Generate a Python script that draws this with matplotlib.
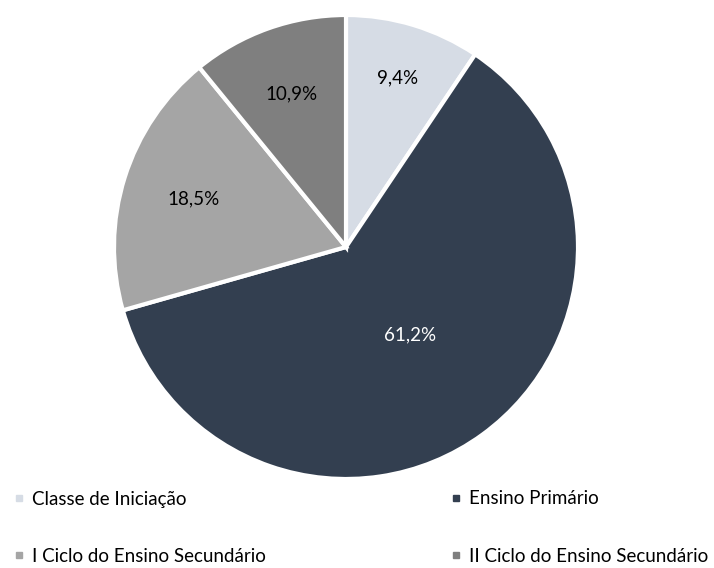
import matplotlib
matplotlib.use('Agg')
import matplotlib.pyplot as plt
from matplotlib.lines import Line2D
import numpy as np

labels = ["Classe de Iniciação", "Ensino Primário",
          "I Ciclo do Ensino Secundário", "II Ciclo do Ensino Secundário"]
shares = [9.4, 61.2, 18.5, 10.9]
colors = ["#d6dce5", "#333f50", "#a5a5a5", "#7f7f7f"]
text_colors = ["black", "white", "black", "black"]
label_dist = [0.76, 0.47, 0.69, 0.70]

plt.rcParams['font.family'] = ['Lato', 'DejaVu Sans']

fig = plt.figure(figsize=(7.14, 5.68), dpi=100)
ax = fig.add_axes([114 / 714, (568 - 247 - 232) / 568, 464 / 714, 464 / 568])

wedges, _ = ax.pie(shares, colors=colors, startangle=90, counterclock=False,
                   radius=1.0, wedgeprops=dict(edgecolor='white', linewidth=3))
ax.set_xlim(-1, 1)
ax.set_ylim(-1, 1)
ax.set_aspect('equal')

for w, v, d, tc in zip(wedges, shares, label_dist, text_colors):
    ang = np.deg2rad((w.theta1 + w.theta2) / 2)
    ax.text(d * np.cos(ang), d * np.sin(ang), f"{v:.1f}".replace('.', ',') + "%",
            ha='center', va='center', fontsize=13.5, color=tc)

order = [0, 2, 1, 3]
handles = [Line2D([], [], marker='s', linestyle='none', markersize=5,
                  markerfacecolor=colors[i], markeredgecolor=colors[i]) for i in order]
fig.legend(handles, [labels[i] for i in order], ncol=2, loc='upper left',
           bbox_to_anchor=(6 / 714, 1 - 483 / 568), frameon=False, fontsize=13.5,
           handlelength=0.6, handletextpad=0.4, labelspacing=2.15,
           columnspacing=9.8, borderaxespad=0)

fig.savefig('out.png', dpi=100)
